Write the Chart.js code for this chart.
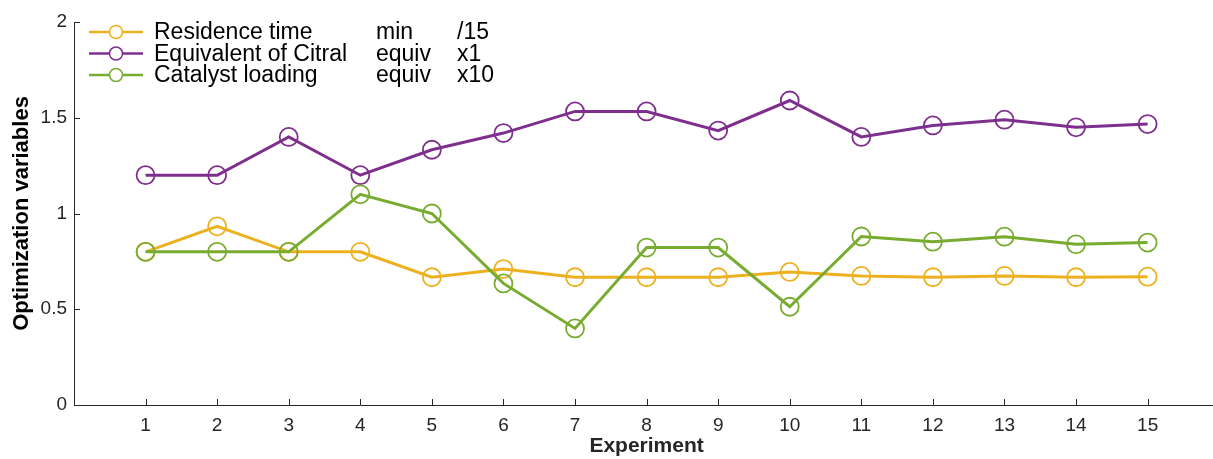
<!DOCTYPE html>
<html>
<head>
<meta charset="utf-8">
<script src="https://cdn.jsdelivr.net/npm/chart.js@4/dist/chart.umd.min.js"></script>
<style>
  html, body { margin: 0; padding: 0; background: #ffffff; overflow: hidden; }
  #wrap { position: relative; width: 1230px; height: 459px; }
</style>
</head>
<body>
<div id="wrap"><canvas id="c"></canvas></div>
<script>
// ---- data ----
const experiments = [1, 2, 3, 4, 5, 6, 7, 8, 9, 10, 11, 12, 13, 14, 15];
const residenceTime = [0.80, 0.933, 0.80, 0.80, 0.667, 0.71, 0.667, 0.667, 0.667, 0.695, 0.674, 0.667, 0.674, 0.667, 0.670];
const citralEquiv = [1.20, 1.20, 1.40, 1.20, 1.333, 1.42, 1.533, 1.533, 1.433, 1.59, 1.40, 1.46, 1.49, 1.45, 1.467];
const catalystLoading = [0.80, 0.80, 0.80, 1.10, 1.00, 0.635, 0.40, 0.822, 0.822, 0.513, 0.88, 0.853, 0.879, 0.839, 0.848];
const seriesNames = ['Residence time', 'Equivalent of Citral', 'Catalyst loading'];
const seriesUnits = ['min', 'equiv', 'equiv'];
const seriesScales = ['/15', 'x1', 'x10'];
const yTickValues = [0, 0.5, 1, 1.5, 2];
const yTickLabels = ['0', '0.5', '1', '1.5', '2'];

const colors = ['#EDB120', '#7E2F8E', '#77AC30'];
const axisColor = '#262626';
const FONT = '"Liberation Sans", Arial, Helvetica, sans-serif';

function toPoints(vals) { return experiments.map((e, i) => ({ x: e, y: vals[i] })); }
const seriesValues = [residenceTime, citralEquiv, catalystLoading];

const datasets = seriesValues.map((vals, i) => ({
  label: seriesNames[i],
  data: toPoints(vals),
  borderColor: colors[i],
  borderWidth: 3,
  pointRadius: 9,
  pointHoverRadius: 9,
  pointBorderWidth: 1.8,
  pointBorderColor: colors[i],
  pointBackgroundColor: 'rgba(0,0,0,0)',
  tension: 0,
  order: 2 - i
}));

// inward tick marks (MATLAB style)
const innerTicks = {
  id: 'innerTicks',
  afterDraw(chart) {
    const ctx = chart.ctx;
    const xs = chart.scales.x, ys = chart.scales.y;
    ctx.save();
    ctx.strokeStyle = axisColor;
    ctx.lineWidth = 1;
    ctx.beginPath();
    experiments.forEach(v => {
      const px = Math.round(xs.getPixelForValue(v)) + 0.5;
      ctx.moveTo(px, ys.bottom);
      ctx.lineTo(px, ys.bottom - 6);
    });
    yTickValues.forEach(v => {
      const py = Math.round(ys.getPixelForValue(v)) + 0.5;
      ctx.moveTo(xs.left, py);
      ctx.lineTo(xs.left + 6, py);
    });
    ctx.stroke();
    ctx.restore();
  }
};

// three-column legend
const tableLegend = {
  id: 'tableLegend',
  afterDatasetsDraw(chart) {
    const ctx = chart.ctx;
    const rowY = [32, 53.5, 75];
    ctx.save();
    ctx.font = '23px ' + FONT;
    ctx.textBaseline = 'middle';
    chart.data.datasets.forEach((ds, i) => {
      const y = rowY[i];
      ctx.strokeStyle = ds.borderColor;
      ctx.lineWidth = 2.6;
      ctx.beginPath();
      ctx.moveTo(89, y);
      ctx.lineTo(143, y);
      ctx.stroke();
      ctx.lineWidth = 1.5;
      ctx.beginPath();
      ctx.arc(116, y, 6.5, 0, Math.PI * 2);
      ctx.fillStyle = '#ffffff';
      ctx.fill();
      ctx.stroke();
      ctx.fillStyle = '#000000';
      ctx.fillText(seriesNames[i], 154, y + 1);
      ctx.fillText(seriesUnits[i], 376, y + 1);
      ctx.fillText(seriesScales[i], 457, y + 1);
    });
    ctx.restore();
  }
};

new Chart(document.getElementById('c'), {
  type: 'line',
  data: { datasets },
  options: {
    responsive: true,
    maintainAspectRatio: false,
    animation: false,
    devicePixelRatio: 1,
    layout: { padding: { left: 0, right: 1.5, top: 22, bottom: 0 } },
    plugins: {
      legend: { display: false },
      tooltip: { enabled: false }
    },
    scales: {
      x: {
        type: 'linear',
        min: 0,
        max: 16,
        grid: { display: false, drawTicks: false },
        border: { display: true, color: axisColor, width: 1 },
        ticks: {
          stepSize: 1,
          autoSkip: false,
          maxRotation: 0,
          padding: 9,
          color: axisColor,
          font: { family: FONT, size: 19 },
          callback: (v) => experiments.includes(v) ? String(v) : ''
        },
        title: {
          display: true,
          text: 'Experiment',
          color: axisColor,
          font: { family: FONT, size: 21, weight: 'bold' },
          padding: { top: 0, bottom: 0 }
        },
        afterFit: (s) => { s.height = 54; s.paddingLeft = 0; s.paddingRight = 0; }
      },
      y: {
        min: 0,
        max: 2,
        grid: { display: false, drawTicks: false },
        border: { display: true, color: axisColor, width: 1 },
        afterBuildTicks: (s) => { s.ticks = yTickValues.map(v => ({ value: v })); },
        ticks: {
          padding: 7,
          color: axisColor,
          font: { family: FONT, size: 19 },
          callback: (v) => yTickLabels[yTickValues.indexOf(v)]
        },
        title: {
          display: true,
          text: 'Optimization variables',
          color: '#000000',
          font: { family: FONT, size: 22, weight: 'bold' },
          padding: { top: 9, bottom: 0 }
        },
        afterFit: (s) => { s.width = 74; }
      }
    }
  },
  plugins: [innerTicks, tableLegend]
});
</script>
</body>
</html>
